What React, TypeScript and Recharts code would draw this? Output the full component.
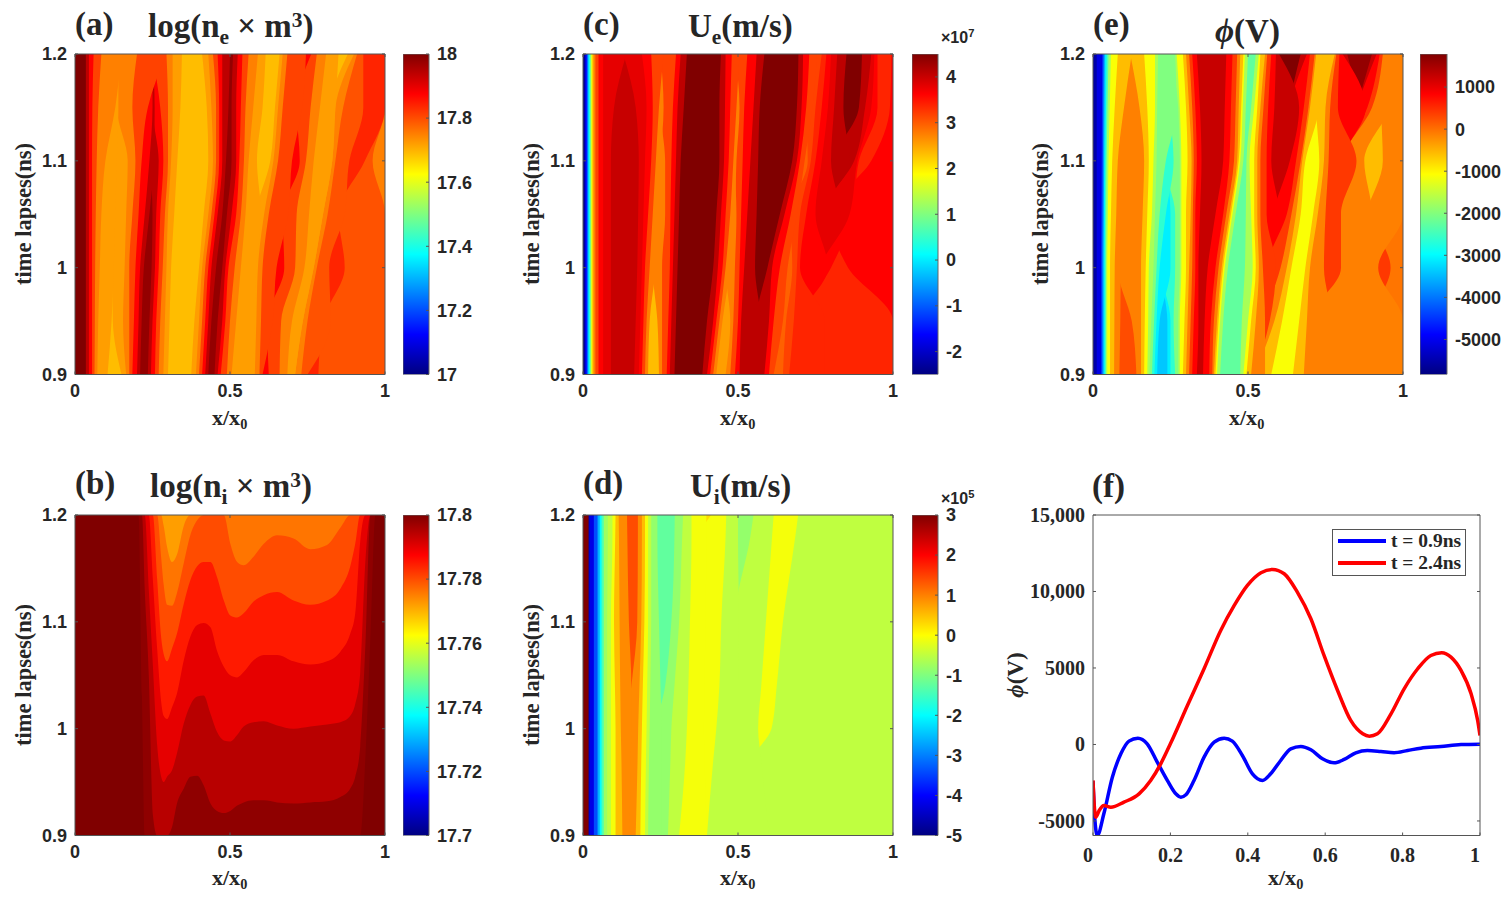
import React from 'react';
import { AreaChart, Area, BarChart, Bar, LineChart, Line, XAxis, YAxis, Legend } from 'recharts';

// Each band: colour level (0..1 of the jet range), then its right edge x/x0 at each time of the panel's time list.
// Bands are painted right to left, so an edge left of its neighbour's edge means the band is absent at that time.
const bandTimes = [0.9, 0.95, 1, 1.05, 1.1, 1.15, 1.2];
const uiTimes = [0.9, 0.97, 1, 1.04, 1.1, 1.18, 1.2];

const neBands = [
  [1.0, .035, .035, .035, .035, .035, .035, .035],
  [.94, .045, .045, .045, .045, .045, .045, .045],
  [.875, .055, .055, .055, .055, .055, .056, .06],
  [.81, .063, .064, .065, .067, .07, .075, .085],
  [.75, .072, .075, .08, .085, .098, .13, .15],
  [.72, .105, .118, .125, .13, .135, .14, .14],
  [.69, .15, .122, .12, .12, .12, .12, .12],
  [.72, .165, .155, .16, .165, .17, .135, .14],
  [.75, .175, .175, .175, .185, .195, .185, .20],
  [.81, .185, .19, .195, .205, .215, .235, .295],
  [.875, .20, .205, .21, .225, .24, .25, .25],
  [.94, .21, .215, .222, .24, .255, .257, .25],
  [.98, .235, .24, .247, .25, .245, .245, .245],
  [.94, .245, .25, .258, .262, .27, .25, .25],
  [.875, .258, .262, .27, .275, .285, .275, .25],
  [.81, .27, .275, .283, .29, .30, .30, .295],
  [.75, .285, .29, .295, .30, .31, .315, .315],
  [.72, .30, .305, .31, .32, .33, .34, .345],
  [.69, .375, .385, .40, .415, .43, .425, .41],
  [.72, .39, .40, .41, .43, .445, .44, .43],
  [.75, .40, .41, .42, .44, .455, .455, .445],
  [.81, .41, .42, .43, .45, .465, .465, .46],
  [.875, .42, .43, .44, .46, .475, .475, .475],
  [.94, .43, .44, .455, .475, .487, .495, .50],
  [.98, .45, .46, .475, .49, .505, .505, .51],
  [.94, .46, .475, .485, .505, .52, .52, .525],
  [.875, .47, .485, .495, .52, .53, .535, .54],
  [.81, .49, .50, .515, .535, .545, .55, .56],
  [.75, .505, .52, .535, .55, .56, .575, .59],
  [.72, .575, .58, .585, .60, .587, .605, .615],
  [.69, .55, .55, .56, .58, .63, .645, .66],
  [.72, .58, .585, .59, .61, .64, .655, .67],
  [.75, .595, .60, .605, .625, .655, .67, .685],
  [.81, .605, .638, .65, .688, .70, .733, .745],
  [.875, .625, .62, .675, .67, .725, .715, .762],
  [.81, .66, .665, .71, .715, .745, .76, .78],
  [.75, .685, .70, .74, .755, .77, .79, .81],
  [.72, .71, .735, .77, .80, .83, .84, .85],
  [.69, .70, .72, .75, .78, .81, .82, .88],
  [.72, .71, .735, .77, .80, .83, .84, .90],
  [.75, .73, .75, .78, .815, .84, .865, .91],
  [.795, .75, .825, .82, .87, .885, .93, .93],
  [.84, .785, .80, .87, .85, .935, 1, 1],
  [.795, 1, 1, 1, 1, .96, 1, 1],
  [.75, 1, 1, 1, 1, 1, 1, 1],
];

const ueBands = [
  [.02, .006, .006, .006, .006, .006, .006, .006],
  [.06, .008, .008, .008, .008, .008, .008, .008],
  [.125, .012, .012, .012, .012, .012, .012, .012],
  [.2, .015, .015, .015, .015, .015, .015, .015],
  [.3, .018, .018, .018, .018, .018, .018, .018],
  [.375, .021, .021, .021, .021, .021, .021, .021],
  [.45, .024, .024, .024, .024, .024, .024, .024],
  [.53, .027, .027, .027, .027, .027, .027, .027],
  [.625, .03, .03, .03, .03, .03, .03, .03],
  [.69, .034, .034, .034, .034, .034, .034, .034],
  [.75, .04, .04, .04, .04, .04, .04, .04],
  [.81, .05, .05, .05, .05, .05, .05, .05],
  [.875, .065, .065, .065, .065, .065, .065, .065],
  [.90, .09, .09, .09, .09, .09, .10, .14],
  [.93, .165, .17, .175, .178, .18, .17, .13],
  [.90, .18, .185, .19, .195, .20, .205, .19],
  [.875, .19, .195, .20, .21, .22, .225, .22],
  [.81, .20, .205, .215, .225, .235, .245, .26],
  [.75, .21, .215, .235, .245, .25, .26, .25],
  [.69, .245, .24, .225, .235, .24, .25, .25],
  [.75, .255, .255, .255, .265, .265, .25, .25],
  [.81, .27, .275, .28, .282, .285, .29, .30],
  [.875, .28, .285, .29, .295, .30, .305, .315],
  [.94, .295, .30, .305, .31, .315, .325, .335],
  [1.0, .385, .40, .42, .43, .44, .44, .445],
  [.94, .40, .42, .435, .445, .455, .458, .46],
  [.875, .41, .43, .45, .46, .47, .475, .48],
  [.81, .42, .44, .46, .475, .485, .495, .505],
  [.75, .43, .45, .475, .49, .495, .505, .49],
  [.72, .46, .475, .46, .47, .48, .49, .49],
  [.75, .475, .485, .49, .495, .49, .49, .49],
  [.81, .49, .50, .505, .51, .515, .52, .53],
  [.875, .505, .51, .52, .53, .54, .55, .56],
  [.94, .58, .575, .555, .56, .565, .57, .585],
  [1.0, .56, .56, .595, .635, .675, .69, .695],
  [.94, .585, .60, .61, .65, .69, .705, .71],
  [.875, .60, .615, .635, .67, .70, .72, .73],
  [.81, .615, .645, .66, .69, .715, .74, .755],
  [.78, .645, .655, .675, .67, .725, .72, .74],
  [.81, .665, .68, .69, .70, .735, .75, .77],
  [.84, .78, .78, .70, .72, .75, .77, .785],
  [.875, .70, .70, .79, .75, .77, .79, .80],
  [.90, .70, .70, .76, .83, .80, .81, .82],
  [.94, .70, .70, .76, .77, .86, .84, .85],
  [1.0, .70, .70, .76, .77, .80, .89, .90],
  [.94, .70, .70, .76, .77, .875, .91, .93],
  [.90, .70, .70, .76, .86, .885, .93, .94],
  [.875, .70, .70, .80, .87, .89, .95, .95],
  [.84, 1, 1, .855, .80, .93, .99, .995],
  [.875, 1, 1, 1, 1, 1, 1, 1],
];

const phiBands = [
  [.04, .012, .012, .012, .012, .012, .012, .012],
  [.1, .026, .026, .026, .027, .028, .029, .03],
  [.18, .03, .03, .03, .031, .032, .033, .034],
  [.27, .034, .034, .034, .035, .036, .037, .038],
  [.36, .038, .038, .038, .039, .04, .042, .044],
  [.45, .042, .042, .042, .043, .044, .047, .05],
  [.54, .046, .046, .046, .048, .05, .054, .058],
  [.62, .055, .055, .055, .058, .062, .07, .08],
  [.69, .068, .069, .07, .075, .08, .10, .125],
  [.75, .085, .088, .09, .097, .105, .125, .12],
  [.80, .14, .125, .08, .08, .08, .08, .08],
  [.75, .155, .155, .155, .16, .165, .15, .12],
  [.69, .165, .167, .17, .175, .18, .175, .165],
  [.62, .175, .178, .18, .19, .195, .20, .20],
  [.54, .182, .188, .195, .20, .205, .207, .21],
  [.5, .19, .197, .205, .215, .235, .27, .265],
  [.42, .198, .205, .215, .235, .26, .25, .25],
  [.36, .207, .215, .25, .25, .24, .24, .24],
  [.32, .24, .24, .22, .23, .23, .23, .23],
  [.36, .25, .25, .22, .23, .23, .23, .23],
  [.42, .265, .26, .265, .265, .23, .23, .23],
  [.5, .275, .275, .28, .28, .28, .275, .25],
  [.54, .28, .28, .285, .285, .285, .28, .27],
  [.62, .29, .295, .30, .30, .305, .30, .29],
  [.69, .30, .305, .31, .315, .318, .31, .30],
  [.75, .31, .315, .32, .322, .325, .32, .31],
  [.82, .32, .325, .33, .33, .335, .33, .32],
  [.875, .335, .34, .34, .345, .35, .345, .335],
  [.93, .355, .36, .37, .395, .42, .425, .43],
  [.875, .375, .38, .395, .42, .44, .445, .45],
  [.82, .385, .39, .405, .43, .455, .46, .465],
  [.75, .39, .40, .415, .44, .465, .47, .475],
  [.69, .395, .405, .42, .445, .47, .478, .485],
  [.62, .40, .41, .425, .45, .475, .483, .49],
  [.54, .41, .42, .435, .46, .485, .493, .50],
  [.47, .475, .48, .49, .493, .495, .51, .525],
  [.54, .485, .50, .515, .51, .505, .52, .535],
  [.62, .495, .51, .525, .52, .52, .53, .54],
  [.69, .51, .525, .535, .53, .53, .54, .555],
  [.75, .555, .555, .548, .54, .54, .55, .562],
  [.82, .52, .57, .59, .56, .56, .565, .575],
  [.875, .52, .55, .56, .60, .575, .585, .59],
  [.93, .52, .55, .56, .58, .635, .665, .60],
  [1.0, .52, .55, .56, .58, .60, .63, .67],
  [.93, .52, .55, .56, .58, .60, .63, .69],
  [.875, .52, .55, .56, .625, .655, .68, .70],
  [.82, .52, .55, .605, .64, .67, .695, .715],
  [.75, .52, .585, .625, .655, .675, .70, .72],
  [.69, .575, .61, .64, .67, .685, .73, .74],
  [.62, .645, .665, .685, .71, .73, .72, .73],
  [.69, .68, .69, .70, .725, .745, .75, .78],
  [.75, .77, .77, .745, .75, .76, .765, .785],
  [.82, .70, .70, .80, .80, .85, .79, .795],
  [.875, .70, .70, .78, .78, .80, .88, .805],
  [.93, .70, .70, .78, .78, .80, .85, .82],
  [.98, .70, .70, .78, .78, .80, .85, .90],
  [.93, .70, .70, .78, .78, .80, .85, .915],
  [.875, .70, .70, .78, .78, .80, .885, .925],
  [.82, .70, .70, .78, .78, .80, .90, .935],
  [.75, .88, .90, .90, .90, .875, .96, 1],
  [.69, .85, .85, .85, .88, .935, .93, .95],
  [.75, 1, 1, .92, 1, 1, 1, 1],
  [.82, .90, .90, .96, .90, .90, .90, .90],
  [.76, 1, 1, 1, 1, 1, 1, 1],
];

const uiBands = [
  [1.0, .018, .018, .018, .018, .018, .018, .018],
  [.05, .021, .021, .021, .021, .021, .021, .021],
  [.1, .035, .035, .035, .035, .035, .035, .035],
  [.2, .047, .047, .047, .047, .047, .047, .047],
  [.3, .054, .054, .054, .054, .054, .054, .054],
  [.375, .06, .06, .06, .06, .06, .06, .06],
  [.45, .067, .067, .067, .067, .067, .067, .067],
  [.53, .078, .078, .078, .078, .078, .08, .08],
  [.5625, .09, .09, .09, .09, .09, .095, .095],
  [.615, .105, .105, .105, .103, .10, .104, .105],
  [.69, .127, .124, .122, .12, .118, .116, .115],
  [.74, .15, .154, .156, .156, .148, .143, .142],
  [.80, .14, .14, .14, .156, .175, .177, .177],
  [.74, .17, .176, .178, .182, .188, .19, .19],
  [.69, .185, .188, .19, .193, .198, .20, .20],
  [.615, .20, .203, .205, .207, .21, .21, .21],
  [.5625, .21, .213, .215, .217, .22, .22, .22],
  [.52, .253, .253, .253, .25, .245, .24, .24],
  [.47, .24, .24, .24, .265, .285, .295, .296],
  [.52, .274, .282, .285, .295, .31, .32, .323],
  [.5625, .31, .33, .335, .34, .345, .35, .35],
  [.615, .40, .392, .39, .392, .395, .398, .398],
  [.66, .38, .38, .38, .38, .38, .38, .413],
  [.615, .40, .42, .43, .44, .446, .46, .462],
  [.5625, .50, .50, .50, .50, .503, .50, .50],
  [.52, .49, .49, .49, .49, .49, .54, .55],
  [.5625, .60, .575, .565, .575, .59, .61, .615],
  [.615, .55, .55, .608, .625, .645, .685, .694],
  [.5625, 1, 1, 1, 1, 1, 1, 1],
];

// Panel (b): contour lines, t (ns) of each colour boundary at the x/x0 positions below
const niX = [0, .205, .216, .225, .238, .251, .265, .278, .286, .297, .313, .329, .351, .372, .394, .415, .437, .458, .48, .501, .523, .544, .576, .609, .652, .705, .759, .813, .856, .888, .904, .92, .937, .953, .969, 1];
const niFloor = [.9, .9, .9, .9, .9, .9, .9, .9, .9, .9, .9, .9, .9, .9, .9, .9, .9, .9, .9, .9, .9, .9, .9, .9, .9, .9, .9, .9, .9, .9, .9, .9, .9, .9, .9, .9];
const niC0 = [1.2, 1.2, 1.03, .9, .9, .9, .9, .9, .9, .9, .9, .9, .9, .9, .9, .9, .9, .9, .9, .9, .9, .9, .9, .9, .9, .9, .9, .9, .9, .9, .9, .9, .975, 1.087, 1.2, 1.2];
const niC1 = [1.2, 1.2, 1.2, 1.13, 1.05, .92, .9, .9, .9, .9, .908, .93, .944, .955, .956, .947, .93, .923, .921, .923, .928, .931, .933, .933, .931, .93, .931, .932, .936, .944, .955, .983, 1.08, 1.2, 1.2, 1.2];
const niC2 = [1.2, 1.2, 1.2, 1.2, 1.13, 1.06, .985, .955, .95, .955, .961, .977, 1.005, 1.022, 1.03, 1.031, 1.014, .997, .989, .988, .994, 1.002, 1.006, 1.007, 1.003, 1.0, 1.002, 1.004, 1.006, 1.012, 1.023, 1.052, 1.158, 1.2, 1.2, 1.2];
const niC3 = [1.2, 1.2, 1.2, 1.2, 1.2, 1.14, 1.075, 1.025, 1.012, 1.009, 1.02, 1.033, 1.064, 1.086, 1.097, 1.099, 1.095, 1.073, 1.058, 1.05, 1.048, 1.053, 1.064, 1.069, 1.069, 1.063, 1.06, 1.063, 1.072, 1.089, 1.108, 1.175, 1.2, 1.2, 1.2, 1.2];
const niC4 = [1.2, 1.2, 1.2, 1.2, 1.2, 1.2, 1.14, 1.085, 1.07, 1.063, 1.075, 1.089, 1.117, 1.139, 1.152, 1.156, 1.156, 1.142, 1.12, 1.106, 1.104, 1.108, 1.119, 1.125, 1.128, 1.12, 1.116, 1.12, 1.131, 1.152, 1.173, 1.2, 1.2, 1.2, 1.2, 1.2];
const niC5 = [1.2, 1.2, 1.2, 1.2, 1.2, 1.2, 1.2, 1.16, 1.135, 1.116, 1.115, 1.127, 1.155, 1.181, 1.195, 1.2, 1.2, 1.2, 1.2, 1.173, 1.156, 1.153, 1.161, 1.173, 1.181, 1.178, 1.168, 1.172, 1.188, 1.2, 1.2, 1.2, 1.2, 1.2, 1.2, 1.2];
const niC6 = [1.2, 1.2, 1.2, 1.2, 1.2, 1.2, 1.2, 1.2, 1.19, 1.17, 1.156, 1.163, 1.19, 1.2, 1.2, 1.2, 1.2, 1.2, 1.2, 1.2, 1.2, 1.2, 1.2, 1.2, 1.2, 1.2, 1.2, 1.2, 1.2, 1.2, 1.2, 1.2, 1.2, 1.2, 1.2, 1.2];
const niCurves = [niFloor, niC0, niC1, niC2, niC3, niC4, niC5, niC6];
const niLevels = [1.0, .985, .945, .9, .85, .80, .76, .72];

// Panel (f)
const blueX = [0, .005, .011, .028, .05, .072, .093, .116, .14, .166, .192, .214, .227, .24, .261, .287, .313, .339, .36, .386, .412, .438, .459, .485, .511, .537, .563, .593, .623, .649, .679, .709, .744, .778, .813, .847, .899, .951, 1];
const blueY = [-2400, -4970, -5950, -4530, -2140, -610, 218, 414, 44, -1155, -2350, -3226, -3444, -3290, -2350, -830, 150, 414, 218, -720, -1918, -2350, -1918, -1046, -283, -130, -350, -937, -1200, -980, -545, -392, -458, -545, -392, -240, -130, 0, 22];
const redX = [0, .003, .007, .016, .028, .046, .08, .119, .149, .175, .2, .244, .287, .33, .365, .399, .434, .464, .494, .528, .563, .597, .632, .666, .697, .714, .735, .77, .804, .839, .873, .901, .925, .951, .977, .994, 1];
const redY = [-2350, -3880, -4750, -4316, -3990, -4100, -3770, -3226, -2354, -1264, 44, 2550, 4950, 7456, 9090, 10400, 11227, 11445, 11160, 9960, 8220, 5820, 3530, 1570, 700, 545, 700, 2000, 3640, 4950, 5820, 6000, 5710, 4840, 3310, 1570, 590];
const blueName = 't = 0.9ns';
const redName = 't = 2.4ns';

const timeTicks = [0.9, 1, 1.1, 1.2];
const heatXTicks = [0, 0.5, 1];
const fXTicks = [0, 0.2, 0.4, 0.6, 0.8, 1];
const fYTicks = [-5000, 0, 5000, 10000, 15000];

const neBarTicks = [17, 17.2, 17.4, 17.6, 17.8, 18];
const niBarTicks = [17.7, 17.72, 17.74, 17.76, 17.78, 17.8];
const ueBarTicks = [-2, -1, 0, 1, 2, 3, 4];
const uiBarTicks = [-5, -4, -3, -2, -1, 0, 1, 2, 3];
const phiBarTicks = [-5000, -4000, -3000, -2000, -1000, 0, 1000];

const AXIS = '#555';
const SANS = '"Liberation Sans", Arial, sans-serif';
const SERIF = '"Liberation Serif", "Times New Roman", serif';
const INK = '#262626';
const tickFont = { fontFamily: SANS, fontSize: 18, fontWeight: 700, fill: INK };
const PW = 310;
const PH = 320.5;

const jetStops: [number, number[]][] = [
  [0, [0, 0, 128]], [.125, [0, 0, 255]], [.375, [0, 255, 255]], [.625, [255, 255, 0]], [.875, [255, 0, 0]], [1, [128, 0, 0]],
];
function jet(f: number) {
  for (let i = 1; i < jetStops.length; i++) {
    const [a, ca] = jetStops[i - 1];
    const [b, cb] = jetStops[i];
    if (f <= b) {
      const u = (f - a) / (b - a);
      return `rgb(${ca.map((c, k) => Math.round(c + (cb[k] - c) * u)).join(',')})`;
    }
  }
  return 'rgb(128,0,0)';
}
const jetGradientOffsets = [0, .125, .375, .625, .875, 1];

function BandPanel({ left, top, bands, times }: { left: number; top: number; bands: number[][]; times: number[] }) {
  const table = times.map((t, i) => {
    const row: Record<string, number> = { t };
    bands.forEach((b, k) => { row['e' + k] = b[i + 1]; });
    return row;
  });
  const order = bands.map((_, k) => k).reverse();
  return (
    <div style={{ position: 'absolute', left: left - 60, top: top - 20 }}>
      <AreaChart width={PW + 80} height={PH + 60} data={table} layout="vertical" margin={{ top: 19, right: 19, left: 0, bottom: 0 }}>
        {order.map((k) => (
          <Area key={k} dataKey={'e' + k} type="monotone" fill={jet(bands[k][0])} fillOpacity={1} stroke="none" isAnimationActive={false} dot={false} activeDot={false} />
        ))}
        <XAxis type="number" domain={[0, 1]} ticks={heatXTicks} interval={0} allowDataOverflow height={40} stroke={AXIS} tickSize={-3} tickMargin={13} tick={tickFont} />
        <XAxis xAxisId="top" orientation="top" type="number" domain={[0, 1]} ticks={heatXTicks} interval={0} allowDataOverflow height={1} stroke={AXIS} tickSize={-3} tickFormatter={() => ''} />
        <YAxis type="number" dataKey="t" reversed domain={[0.9, 1.2]} ticks={timeTicks} interval={0} allowDataOverflow width={60} stroke={AXIS} tickSize={-3} tickMargin={11} tick={tickFont} />
        <YAxis yAxisId="right" orientation="right" dataKey="t" reversed type="number" domain={[0.9, 1.2]} ticks={timeTicks} interval={0} allowDataOverflow width={1} stroke={AXIS} tickSize={-3} tickFormatter={() => ''} />
      </AreaChart>
    </div>
  );
}

function ContourPanel({ left, top }: { left: number; top: number }) {
  const table = niX.map((x, i) => {
    const row: Record<string, number> = { x };
    niCurves.forEach((c, k) => { row['c' + k] = c[i]; });
    return row;
  });
  return (
    <div style={{ position: 'absolute', left: left - 60, top: top - 20 }}>
      <AreaChart width={PW + 80} height={PH + 60} data={table} margin={{ top: 19, right: 19, left: 0, bottom: 0 }}>
        {niCurves.map((_, k) => (
          <Area key={k} dataKey={'c' + k} baseValue={1.2} type="monotone" fill={jet(niLevels[k])} fillOpacity={1} stroke="none" isAnimationActive={false} dot={false} activeDot={false} />
        ))}
        <XAxis type="number" dataKey="x" domain={[0, 1]} ticks={heatXTicks} interval={0} allowDataOverflow height={40} stroke={AXIS} tickSize={-3} tickMargin={13} tick={tickFont} />
        <XAxis xAxisId="top" orientation="top" type="number" dataKey="x" domain={[0, 1]} ticks={heatXTicks} interval={0} allowDataOverflow height={1} stroke={AXIS} tickSize={-3} tickFormatter={() => ''} />
        <YAxis type="number" domain={[0.9, 1.2]} ticks={timeTicks} interval={0} allowDataOverflow width={60} stroke={AXIS} tickSize={-3} tickMargin={11} tick={tickFont} />
        <YAxis yAxisId="right" orientation="right" type="number" domain={[0.9, 1.2]} ticks={timeTicks} interval={0} allowDataOverflow width={1} stroke={AXIS} tickSize={-3} tickFormatter={() => ''} />
      </AreaChart>
    </div>
  );
}

function ColourBar({ left, top, width, domain, ticks, id }: { left: number; top: number; width: number; domain: number[]; ticks: number[]; id: string }) {
  const table = [{ n: 'range', r: domain }];
  return (
    <div style={{ position: 'absolute', left, top: top - 20 }}>
      <BarChart width={width + 70} height={PH + 40} data={table} barCategoryGap={0} margin={{ top: 20, right: 0, left: 0, bottom: 20 }}>
        <defs>
          <linearGradient id={id} x1="0" y1="1" x2="0" y2="0">
            {jetGradientOffsets.map((o) => <stop key={o} offset={o} stopColor={jet(o)} />)}
          </linearGradient>
        </defs>
        <XAxis dataKey="n" hide />
        <Bar dataKey="r" fill={`url(#${id})`} stroke="#666" strokeWidth={1} isAnimationActive={false} />
        <YAxis orientation="right" type="number" domain={domain} ticks={ticks} interval={0} allowDataOverflow width={70} stroke={AXIS} axisLine={false} tickSize={-3} tickMargin={11} tick={tickFont} />
      </BarChart>
    </div>
  );
}

function fYFormat(v: number) {
  return Math.abs(v) >= 10000 ? v.toLocaleString('en-US') : String(v);
}
function FXTick(p: any) {
  const v = p.payload.value;
  const dx = v === 0 || v === 1 ? -5 : 0;
  return <text x={p.x + dx} y={p.y} textAnchor="middle" dominantBaseline="central" style={{ fontFamily: SERIF, fontSize: 20, fontWeight: 700, fill: INK }}>{v}</text>;
}
function FYTick(p: any) {
  return <text x={p.x} y={p.y} textAnchor="end" dominantBaseline="central" style={{ fontFamily: SERIF, fontSize: 20, fontWeight: 700, fill: INK }}>{fYFormat(p.payload.value)}</text>;
}
function FLegend(p: any) {
  return (
    <div style={{ width: 132, height: 45, border: '1px solid #555', background: '#fff' }}>
      {(p.payload || []).map((e: any) => (
        <div key={e.value} style={{ position: 'relative', height: 22, display: 'flex', alignItems: 'center', fontFamily: SERIF, fontWeight: 700, fontSize: 19.5, color: INK, whiteSpace: 'nowrap' }}>
          <span style={{ display: 'inline-block', width: 48, height: 3.5, marginLeft: 5, marginRight: 5, background: e.color }} />
          {e.value}
        </div>
      ))}
    </div>
  );
}

function LinePanel({ left, top }: { left: number; top: number }) {
  const blue = blueX.map((x, i) => ({ x, y: blueY[i] }));
  const red = redX.map((x, i) => ({ x, y: redY[i] }));
  return (
    <div style={{ position: 'absolute', left: left - 90, top: top - 20 }}>
      <LineChart width={387 + 100} height={PH + 60} margin={{ top: 19, right: 9, left: 0, bottom: 0 }}>
        <XAxis type="number" dataKey="x" domain={[0, 1]} ticks={fXTicks} interval={0} allowDataOverflow height={40} stroke={AXIS} tickSize={-3} tickMargin={22} tick={<FXTick />} />
        <XAxis xAxisId="top" orientation="top" type="number" domain={[0, 1]} ticks={fXTicks} interval={0} allowDataOverflow height={1} stroke={AXIS} tickSize={-3} tickFormatter={() => ''} />
        <YAxis type="number" domain={[-5950, 15000]} ticks={fYTicks} interval={0} allowDataOverflow width={90} stroke={AXIS} tickSize={-3} tickMargin={11} tick={<FYTick />} />
        <YAxis yAxisId="right" orientation="right" type="number" domain={[-5950, 15000]} ticks={fYTicks} interval={0} allowDataOverflow width={1} stroke={AXIS} tickSize={-3} tickFormatter={() => ''} />
        <Line data={blue} dataKey="y" name={blueName} type="monotone" stroke="#0000ff" strokeWidth={3.5} dot={false} activeDot={false} isAnimationActive={false} />
        <Line data={red} dataKey="y" name={redName} type="monotone" stroke="#ff0000" strokeWidth={3.5} dot={false} activeDot={false} isAnimationActive={false} />
        <Legend content={<FLegend />} layout="vertical" verticalAlign="middle" align="center" wrapperStyle={{ position: 'absolute', left: 1332 - (left - 90), top: 529 - (top - 20), width: 134 }} />
      </LineChart>
    </div>
  );
}

function Txt({ x, base, size, children }: { x: number; base: number; size: number; children: React.ReactNode }) {
  return (
    <div style={{ position: 'absolute', left: x, top: base - 0.8375 * size, fontFamily: SERIF, fontWeight: 700, fontSize: size, lineHeight: 1, color: INK, whiteSpace: 'nowrap' }}>
      {children}
    </div>
  );
}
const Sub = ({ children }: { children: React.ReactNode }) => <span style={{ fontSize: '65%', position: 'relative', top: '0.3em' }}>{children}</span>;
const Sup = ({ children }: { children: React.ReactNode }) => <span style={{ fontSize: '65%', position: 'relative', top: '-0.5em' }}>{children}</span>;
function VLabel({ x, y, size, children }: { x: number; y: number; size: number; children: React.ReactNode }) {
  return (
    <div style={{ position: 'absolute', left: x, top: y, fontFamily: SERIF, fontWeight: 700, fontSize: size, lineHeight: 1, color: INK, whiteSpace: 'nowrap', transform: 'translate(-50%,-50%) rotate(-90deg)' }}>
      {children}
    </div>
  );
}
const XLabel = ({ x, base }: { x: number; base: number }) => <Txt x={x} base={base} size={22}>x/x<Sub>0</Sub></Txt>;
const Phi = () => <span style={{ fontStyle: 'italic' }}>ϕ</span>;
function Scale({ x, y, exp }: { x: number; y: number; exp: string }) {
  return (
    <div style={{ position: 'absolute', left: x, top: y, fontFamily: SANS, fontWeight: 700, fontSize: 16, lineHeight: 1, color: INK, whiteSpace: 'nowrap' }}>
      ×10<span style={{ fontSize: '70%', position: 'relative', top: '-0.5em' }}>{exp}</span>
    </div>
  );
}

export default function App() {
  return (
    <div style={{ position: 'absolute', left: 0, top: 0, width: 1510, height: 900, background: '#fff', overflow: 'hidden' }}>
      <BandPanel left={74.7} top={54} bands={neBands} times={bandTimes} />
      <BandPanel left={583.3} top={54} bands={ueBands} times={bandTimes} />
      <BandPanel left={1092.7} top={54} bands={phiBands} times={bandTimes} />
      <ContourPanel left={74.7} top={515} />
      <BandPanel left={583.3} top={515} bands={uiBands} times={uiTimes} />
      <LinePanel left={1092.5} top={515} />

      <ColourBar left={403} top={54} width={26} domain={[17, 18]} ticks={neBarTicks} id="barA" />
      <ColourBar left={403} top={515} width={26} domain={[17.7, 17.8]} ticks={niBarTicks} id="barB" />
      <ColourBar left={912} top={54} width={26} domain={[-2.5, 4.5]} ticks={ueBarTicks} id="barC" />
      <ColourBar left={912} top={515} width={26} domain={[-5, 3]} ticks={uiBarTicks} id="barD" />
      <ColourBar left={1420} top={54} width={27} domain={[-5833, 1786]} ticks={phiBarTicks} id="barE" />
      <Scale x={941} y={30} exp="7" />
      <Scale x={941} y={491} exp="5" />

      <Txt x={75} base={36} size={33}>(a)</Txt>
      <Txt x={148} base={38} size={33}>log(n<Sub>e</Sub> × m<Sup>3</Sup>)</Txt>
      <Txt x={75} base={495} size={33}>(b)</Txt>
      <Txt x={150} base={498} size={33}>log(n<Sub>i</Sub> × m<Sup>3</Sup>)</Txt>
      <Txt x={583} base={36} size={33}>(c)</Txt>
      <Txt x={688} base={38} size={33}>U<Sub>e</Sub>(m/s)</Txt>
      <Txt x={583} base={495} size={33}>(d)</Txt>
      <Txt x={690} base={498} size={33}>U<Sub>i</Sub>(m/s)</Txt>
      <Txt x={1093} base={36} size={33}>(e)</Txt>
      <Txt x={1215} base={43} size={33}><Phi />(V)</Txt>
      <Txt x={1092} base={498} size={33}>(f)</Txt>

      <XLabel x={212} base={425} />
      <XLabel x={720} base={425} />
      <XLabel x={1229} base={425} />
      <XLabel x={212} base={885} />
      <XLabel x={720} base={885} />
      <XLabel x={1268} base={885} />

      <VLabel x={24} y={214} size={22.5}>time lapses(ns)</VLabel>
      <VLabel x={532} y={214} size={22.5}>time lapses(ns)</VLabel>
      <VLabel x={1041} y={214} size={22.5}>time lapses(ns)</VLabel>
      <VLabel x={24} y={675} size={22.5}>time lapses(ns)</VLabel>
      <VLabel x={532} y={675} size={22.5}>time lapses(ns)</VLabel>
      <VLabel x={1015} y={675} size={23}><Phi />(V)</VLabel>
    </div>
  );
}
